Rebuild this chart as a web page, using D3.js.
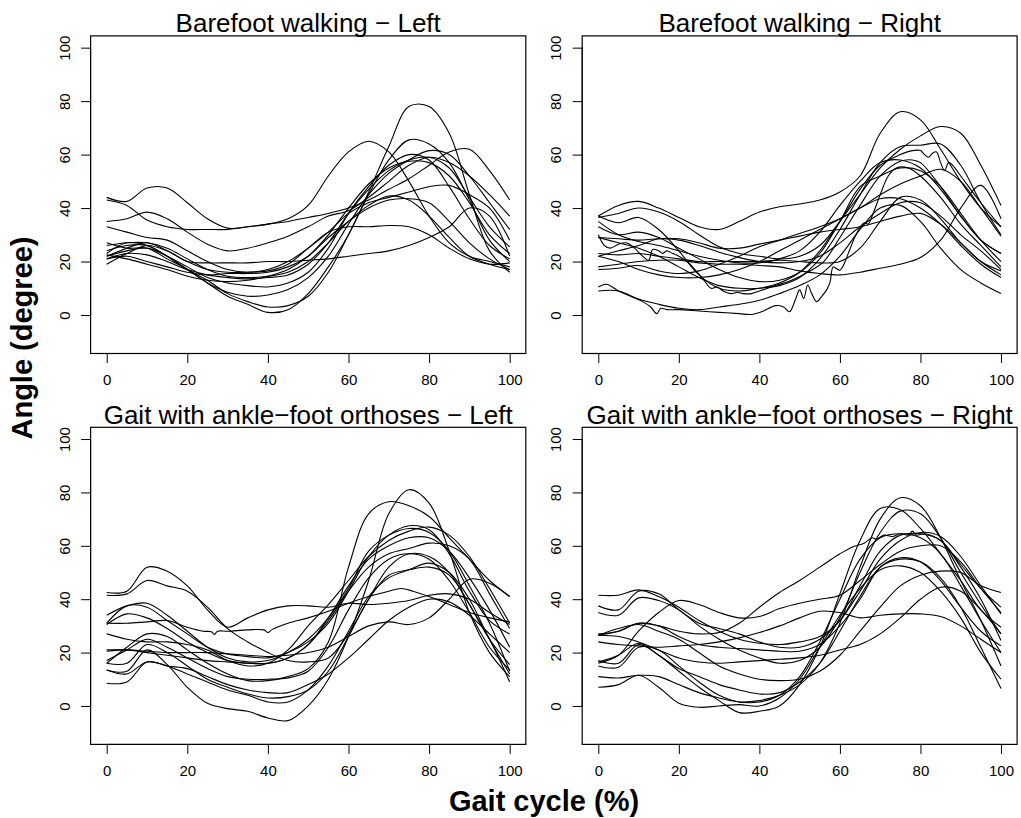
<!DOCTYPE html>
<html>
<head>
<meta charset="utf-8">
<script src="https://cdn.jsdelivr.net/npm/d3@7"></script>
<style>
  body { margin: 0; background: #fff; }
  text { font-family: "Liberation Sans", Arial, Helvetica, sans-serif; fill: #000; }
</style>
</head>
<body>
<svg id="chart" width="1021" height="818"></svg>
<script>
// ---- data ---------------------------------------------------------------
const cycleTicks = [0, 20, 40, 60, 80, 100];
const angleTicks = [0, 20, 40, 60, 80, 100];
// sampling grid (gait cycle %) for the regularly sampled curves
const cycleGrid = [0, 5, 10, 15, 20, 25, 30, 35, 40, 45, 50, 55, 60, 65, 70, 75, 80, 85, 90, 95, 100];

const panelTitles = [
  "Barefoot walking \u2212 Left",
  "Barefoot walking \u2212 Right",
  "Gait with ankle\u2212foot orthoses \u2212 Left",
  "Gait with ankle\u2212foot orthoses \u2212 Right"
];
const xAxisTitle = "Gait cycle (%)";
const yAxisTitle = "Angle (degree)";

// Each curve: either 21 angles on cycleGrid, or a list of [cycle %, angle] pairs.
const barefootLeft = [
  [44, 42.5, 47.5, 47.5, 42, 36, 32.5, 33, 34, 35, 36.5, 38, 40, 43, 47, 51, 56, 61, 62, 54, 43],
  [43, 41, 35.5, 33, 32, 32, 32, 33, 34, 36, 41, 52, 61, 65, 61, 50, 37, 27, 22, 20, 18],
  [35, 36, 38.5, 36, 31, 26.5, 24, 25, 27, 29.5, 33, 37, 39, 44, 50, 56, 59, 57, 52, 45, 37],
  [27, 25, 25, 21, 17, 12, 7, 4, 1, 2, 8, 18, 30, 46, 63, 78, 78, 68, 45, 24, 16],
  [24, 26, 26, 22, 17, 13, 8, 5, 3, 3.5, 7, 16, 30, 45, 58, 65.5, 64, 57, 43, 28, 20],
  [23, 27, 26, 22, 17, 12, 8.5, 7, 7.5, 9.5, 14, 22, 34, 45, 53, 58, 61.5, 60, 52, 42, 32],
  [22, 24, 25, 22, 18, 14, 12, 11, 10.5, 12, 16, 25, 38, 48, 56, 60, 58, 48, 36, 26, 21],
  [21, 23, 22.5, 20, 17, 15, 14, 13.5, 14, 15, 19, 27, 38, 47, 54, 58, 59, 55, 44, 33, 25.5],
  [19, 23, 26, 24, 20, 19.5, 19.5, 19.5, 20, 20, 20.5, 21, 22, 23, 24, 26, 29, 33, 40, 37, 22],
  [22, 25, 27, 24, 20, 17, 16, 16, 16.5, 19, 25, 31, 33, 33, 33.5, 33, 30, 25, 21, 19, 19.5],
  [26, 27, 27, 25, 21, 17, 14.5, 14, 14.5, 16, 20, 27, 35, 41, 44.5, 43, 37, 29, 22, 19, 17],
  [21, 22, 20, 18, 16, 15, 15.5, 15.5, 16, 18, 22, 29, 35, 40, 43, 43.5, 42, 35, 27, 21, 17],
  [33, 31, 29, 28, 24, 20, 17, 16, 17, 20, 25, 31, 38, 42, 44, 46, 48, 48.5, 45, 40, 28],
  [22.5, 21, 19, 17, 14.5, 13, 12.5, 13, 14.5, 17, 22, 30, 40, 49, 55, 57.5, 57, 52, 42, 30, 23]
];

const barefootRight = [
  [37, 41, 42.5, 40, 36.5, 33, 32, 35, 38.5, 40.5, 41.5, 43, 46, 52, 68, 76, 73, 62, 50, 40, 33],
  [[0, 36.5], [5, 38], [10, 40], [15, 38.5], [20, 35], [25, 30], [30, 25.5], [35, 23], [40, 22], [45, 21],
   [50, 22], [55, 26], [60, 35], [65, 47], [70, 56], [75, 60], [78, 61.5], [80, 61.5], [81, 60], [82, 59],
   [83, 60.5], [84, 61], [85, 57], [86, 54], [87, 57], [88, 56], [90, 52], [95, 42], [100, 33]],
  [37, 34.5, 36.5, 32, 24, 15, 10, 9, 10, 11, 14, 21, 32, 45, 57, 63, 63.5, 64, 56, 42, 30],
  [35, 30, 27.5, 26, 24, 22, 20.5, 19.5, 19.5, 21, 24, 31, 41, 50, 57, 58, 55, 47, 37, 28, 23],
  [33, 30, 31, 29, 25, 21, 17, 14, 12.5, 13, 16, 23, 35, 48, 52, 55, 54, 48, 38, 28, 20],
  [29, 28.5, 28, 28.5, 28, 26, 23.5, 21.5, 20, 19.5, 20, 22, 27, 33, 38, 42, 42, 37, 30, 24, 17],
  [[0, 30], [1.5, 26], [3, 25], [5, 26.5], [7, 27], [9, 25], [11, 22], [12.5, 20.5], [13.5, 24.5], [15, 24],
   [16, 23], [17, 24], [18.5, 23], [20, 22], [22, 20], [24, 17], [26, 13.5], [28, 10], [29.5, 10.5], [31, 9],
   [33, 8], [34.5, 8.5], [36, 8], [38, 8], [40, 9], [44, 11], [48, 13], [52, 16], [56, 20], [60, 29],
   [65, 41], [70, 52], [75, 57.5], [78, 58], [80, 57], [85, 48], [90, 37], [95, 28], [100, 23]],
  [23, 22.5, 23, 22, 21, 20, 20, 20, 20, 20.5, 20, 19.5, 20, 25, 35, 44, 43, 36, 27, 20, 16.5],
  [22, 24, 26, 28.5, 28.5, 27, 25, 25, 26.5, 28, 29.5, 31, 32, 33, 35, 37, 38, 34, 27, 20, 15],
  [17, 17.5, 18.5, 16.5, 15.5, 16.5, 19, 22, 25.5, 28, 30.5, 33, 36, 40, 43.5, 43.5, 40, 34, 26, 19, 14],
  [18, 19, 20, 20.5, 20.5, 19.5, 19, 19, 18.5, 18, 16.5, 15.5, 15, 16, 17.5, 19, 21.5, 28, 40, 48.5, 36],
  [9, 9, 6, 4, 2.5, 2, 3, 4, 5.5, 8, 11, 15, 22, 32, 40, 41, 35, 25, 17, 12, 8],
  [[0, 10.5], [2, 11.5], [5, 9], [8, 7], [11, 5], [13, 3], [14.5, 0.5], [15.5, 2.5], [17, 2], [20, 2],
   [25, 1.5], [30, 1], [35, 0.5], [38, 0.2], [41, 1.5], [44, 3.5], [46, 3], [47.5, 1.2], [49, 6], [50, 9.4],
   [51, 6.2], [52, 11.2], [53, 8], [54.2, 5], [55.5, 7], [56.7, 9.4], [57.5, 12], [58.3, 18], [59, 17.5],
   [60, 16.8], [61, 19], [62.4, 24.3], [64, 30], [66, 34.5], [67, 34], [68, 37], [70, 45], [72, 52],
   [74, 55], [77, 55], [80, 52], [85, 44], [90, 34], [95, 26], [100, 18]],
  [29, 27, 25, 22, 18, 14, 11, 10, 10, 12, 16, 24, 35, 45, 55, 62, 67, 70.5, 68, 56, 41],
  [22, 20, 17, 15, 14, 14, 15, 17, 20, 24, 28, 32, 36, 40, 45, 49, 52, 54.5, 50, 40, 29.5]
];

const orthosisLeft = [
  [42.5, 43, 52, 50.5, 45, 36, 29.5, 33, 36, 37.5, 37.5, 37, 38.5, 38, 38.5, 39.5, 41.5, 42, 40, 35, 30.5],
  [41.5, 42, 47, 45, 43, 37, 29, 24, 20, 17, 16.5, 18, 27, 40, 52, 57, 56, 50, 38, 25, 15.5],
  [34, 37.5, 38.5, 34, 28, 22, 18, 16.5, 17, 20, 25, 33, 44, 58, 64, 66.5, 65, 58, 45, 31, 13],
  [31, 37.5, 37, 32, 27, 22, 19.5, 18.5, 18, 20, 24, 31, 43, 56, 64, 67.5, 66, 57, 43, 32, 27],
  [13.5, 13, 21, 15.5, 7, 1, -1, -2, -4.5, -5.5, 0, 10, 26, 47, 72, 81, 76, 58, 35, 20, 11],
  [30.5, 34.5, 33, 29, 24, 20, 17, 16, 16, 18, 23, 33, 45, 55, 60, 63, 63, 58, 48, 36, 22],
  [16, 22, 27, 26, 21, 16, 12, 9.5, 9.5, 11, 14, 24, 52, 72, 76.5, 75, 71, 63, 55, 47, 41],
  [27, 25, 24, 24, 23, 21, 17, 15, 16, 21, 30, 38, 47, 56, 62, 65.5, 67, 64, 56, 44, 31],
  [21, 21, 20, 19, 18, 17, 16.5, 16, 16, 18, 23, 32, 43, 52, 57, 59, 61, 60, 55, 42, 29],
  [17, 21, 25, 22, 18, 14, 11, 10, 10, 10.5, 13, 22, 36, 48, 55, 57, 55, 47, 35, 22, 13.5],
  [13.5, 12, 16.5, 15, 12, 9, 6, 4, 1.5, 1.5, 6, 15, 28, 41, 48, 51, 53.5, 50, 40, 25, 12],
  [16, 16, 23, 20, 15, 10, 7, 4.5, 3, 3.5, 6, 13, 26, 40, 49, 51, 52, 49, 38, 25, 9],
  [[0, 31], [5, 31], [10, 31.5], [15, 32], [20, 29.5], [24, 28], [26, 27.8], [26.7, 26.8], [27.5, 28], [30, 28],
   [35, 28.5], [39, 28.5], [40, 27.5], [41, 28.6], [45, 31], [50, 33], [55, 35.5], [60, 38.5], [65, 41],
   [70, 43], [73, 44], [76, 43], [80, 41], [85, 38], [90, 35], [95, 33], [100, 31.5]],
  [20.5, 21, 20.5, 20, 20, 20, 19.5, 19, 18.5, 19, 20, 22, 26, 30, 31.5, 30.5, 33, 40, 47.5, 46, 41],
  [8.5, 9, 16.5, 15, 14, 11, 8, 6, 5, 5, 8, 12, 18, 25, 32, 37, 40, 39, 34, 27, 20]
];

const orthosisRight = [
  [41.5, 41.5, 43.5, 41, 37, 32, 28, 25, 23.5, 23, 24, 26, 32, 45, 58, 64, 64.5, 62, 52, 40, 24.5],
  [37.5, 36, 43, 42, 36, 31, 29, 27, 24, 22, 22, 25, 32, 43, 55, 62, 65, 63.5, 56, 45, 34.5],
  [35, 34, 40.5, 39.5, 36, 30, 25, 21, 18, 16, 17, 22, 33, 50, 65, 73, 72, 63, 50, 38, 27],
  [[0, 26.5], [5, 28], [10, 31], [15, 30], [20, 28], [25, 27], [30, 27.5], [35, 31], [40, 37], [45, 42.5],
   [50, 47], [55, 52], [60, 57], [63, 59.5], [66, 61], [68, 63], [69, 62.5], [71, 64], [73, 63.5], [75, 64.5],
   [77, 64], [78, 65.5], [79, 64], [81, 64.5], [85, 62], [90, 53], [95, 44], [100, 37]],
  [16, 19, 28, 35, 39.5, 38, 35, 33, 33.5, 36.5, 38.5, 40, 41.5, 47, 53, 58, 60, 60, 54, 44, 35],
  [27, 28, 31, 30, 26, 23, 22, 21.5, 21, 20.5, 20.5, 23, 30, 40, 52, 55.5, 54, 47, 37, 28, 22.5],
  [24, 23, 22.5, 22, 22.5, 23, 24, 25.5, 27.5, 30, 33, 35.5, 35, 33, 34, 34.5, 34.5, 33.5, 30, 25, 20],
  [26.5, 26, 24, 21, 18, 16.5, 16, 16.5, 17, 17.5, 18, 19, 21, 23, 27, 33, 40, 44.5, 43, 36, 27],
  [17, 16, 23, 19, 14, 11, 8, 6, 4.5, 5, 9, 16, 28, 41, 52, 55, 54, 48, 37, 22, 6.5],
  [15, 14.5, 22, 21, 15, 9, 4, 1.5, 1.5, 4, 11, 24, 40, 55, 63, 64.5, 63, 57, 45, 32, 20],
  [11, 10.5, 11.5, 11, 8, 5, 3, 1.5, 2, 4, 8, 16, 31, 52, 70, 78, 75, 63, 47, 32, 15],
  [16.5, 19, 23.5, 19, 13, 7, 2, -2.5, -2, 0, 8, 22, 42, 62, 74, 73.5, 66.5, 57, 47, 36, 29.5],
  [7, 8, 11.5, 7, 1, -0.5, 0, 0.5, 0, 3, 10, 22, 34, 44, 51, 52.5, 50, 43, 33, 20, 10],
  [26.5, 29, 30.5, 28, 25, 20, 15, 12, 10, 9.5, 10, 13, 19, 28, 37, 45, 49, 50.5, 50, 45, 42.5]
];

// ---- layout -------------------------------------------------------------
const svg = d3.select("#chart");
const colX = [[90.6, 525.8], [582.2, 1017.1]];
const rowY = [[35.9, 353.5], [427.3, 744.4]];
const xDomain = [-4, 104];
const yDomain = [-14.4, 104.4];
const tickFont = 15;

const panels = [
  { title: panelTitles[0], curves: barefootLeft, col: 0, row: 0 },
  { title: panelTitles[1], curves: barefootRight, col: 1, row: 0 },
  { title: panelTitles[2], curves: orthosisLeft, col: 0, row: 1 },
  { title: panelTitles[3], curves: orthosisRight, col: 1, row: 1 }
];

function toPoints(curve) {
  return typeof curve[0] === "number"
    ? curve.map((v, i) => [cycleGrid[i], v])
    : curve;
}

panels.forEach(p => {
  const [x0, x1] = colX[p.col];
  const [y0, y1] = rowY[p.row];
  const x = d3.scaleLinear().domain(xDomain).range([x0, x1]);
  const y = d3.scaleLinear().domain(yDomain).range([y1, y0]);
  const g = svg.append("g");

  const line = d3.line()
    .x(d => x(d[0]))
    .y(d => y(d[1]))
    .curve(d3.curveCatmullRom.alpha(0.5));

  g.append("g")
    .selectAll("path")
    .data(p.curves)
    .join("path")
    .attr("d", c => line(toPoints(c)))
    .attr("fill", "none")
    .attr("stroke", "#000")
    .attr("stroke-width", 1.1);

  // bottom axis
  const xa = g.append("g")
    .attr("transform", `translate(0,${y1})`)
    .call(d3.axisBottom(x).tickValues(cycleTicks).tickSize(9.5).tickSizeOuter(0).tickPadding(11));
  xa.select(".domain").remove();
  xa.selectAll("line").attr("stroke", "#000");
  xa.selectAll("text").attr("font-size", tickFont).attr("fill", "#000")
    .style("font-family", '"Liberation Sans", Arial, sans-serif');
  g.append("line")
    .attr("x1", x(cycleTicks[0])).attr("x2", x(cycleTicks[cycleTicks.length - 1]))
    .attr("y1", y1).attr("y2", y1).attr("stroke", "#000");

  // left axis with labels parallel to the axis
  const ya = g.append("g")
    .attr("transform", `translate(${x0},0)`)
    .call(d3.axisLeft(y).tickValues(angleTicks).tickSize(9.5).tickSizeOuter(0));
  ya.select(".domain").remove();
  ya.selectAll("line").attr("stroke", "#000");
  ya.selectAll("text")
    .attr("x", null).attr("dy", null)
    .attr("text-anchor", "middle")
    .attr("transform", "translate(-21,0) rotate(-90)")
    .attr("font-size", tickFont).attr("fill", "#000")
    .style("font-family", '"Liberation Sans", Arial, sans-serif');
  g.append("line")
    .attr("x1", x0).attr("x2", x0)
    .attr("y1", y(angleTicks[0])).attr("y2", y(angleTicks[angleTicks.length - 1]))
    .attr("stroke", "#000");

  // frame
  g.append("rect")
    .attr("x", x0).attr("y", y0)
    .attr("width", x1 - x0).attr("height", y1 - y0)
    .attr("fill", "none").attr("stroke", "#000").attr("stroke-width", 1.2);

  // panel title
  g.append("text")
    .attr("x", (x0 + x1) / 2)
    .attr("y", y0 - 3.5)
    .attr("text-anchor", "middle")
    .attr("font-size", 26)
    .text(p.title);
});

// shared axis titles
svg.append("text")
  .attr("x", 544).attr("y", 811)
  .attr("text-anchor", "middle")
  .attr("font-size", 29).attr("font-weight", "bold")
  .text(xAxisTitle);

svg.append("text")
  .attr("transform", "translate(32,338) rotate(-90)")
  .attr("text-anchor", "middle")
  .attr("font-size", 29).attr("font-weight", "bold")
  .text(yAxisTitle);
</script>
</body>
</html>
